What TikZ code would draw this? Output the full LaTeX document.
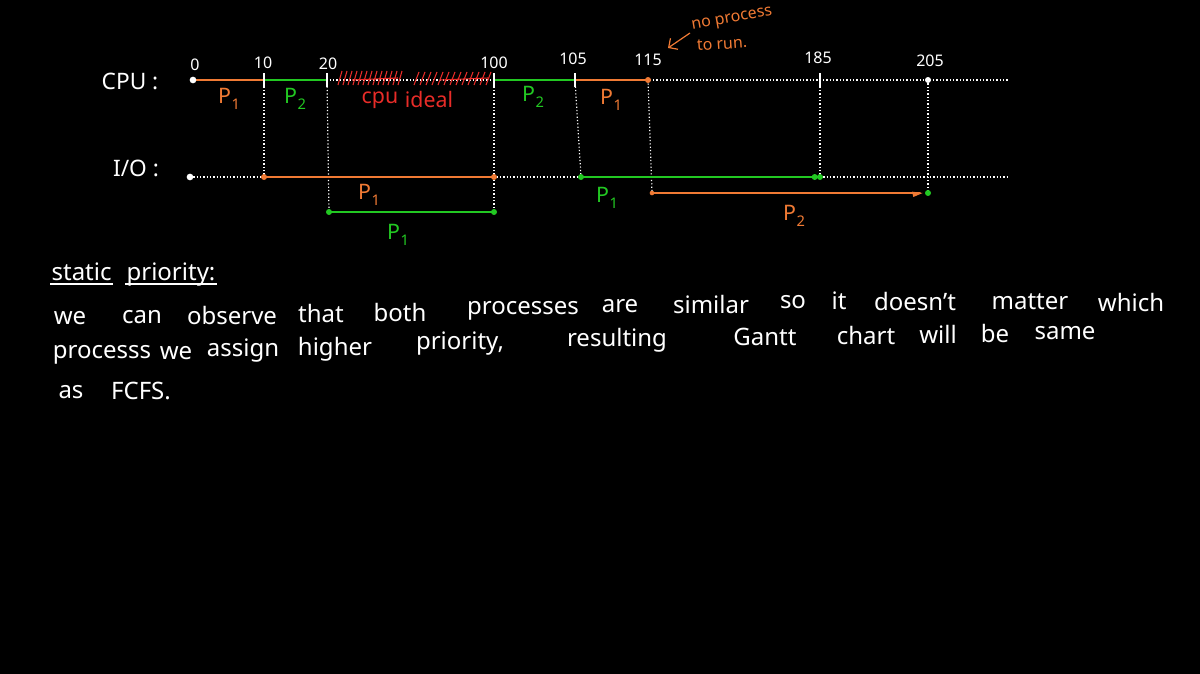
\documentclass[tikz,border=0pt]{standalone}
\usepackage{fontspec}
\setmainfont{Noto Sans}
\usetikzlibrary{arrows.meta}
\definecolor{ora}{RGB}{240,122,52}
\definecolor{grn}{RGB}{34,200,34}
\definecolor{rd}{RGB}{232,44,40}
\newcommand{\plab}[1]{P\kern0.5pt\raisebox{-0.55ex}{\fontsize{11}{11}\selectfont #1}}
\begin{document}
\begin{tikzpicture}[x=0.75pt,y=-0.75pt,
  dotl/.style={white, line width=0.9pt, dash pattern=on 0.9pt off 1.6pt},
  seg/.style={line width=1.6pt, line cap=round},
  dotm/.style={circle, fill=#1, inner sep=0pt, minimum size=4.5pt},
  tickm/.style={white, line width=1.4pt},
  tlab/.style={white, font=\fontsize{12}{12}\selectfont},
  plabel/.style={font=\fontsize{16}{16}\selectfont},
  axlab/.style={white, font=\fontsize{17}{17}\selectfont},
  wd/.style={white, font=\fontsize{18}{18}\selectfont, inner sep=1pt}]
\fill[black] (0,0) rectangle (1200,674);
\useasboundingbox (0,0) rectangle (1200,674);

% coordinates
\coordinate (c0) at (193,80);
\coordinate (c10) at (264,80);
\coordinate (c20) at (327,80);
\coordinate (c100) at (494,80);
\coordinate (c105) at (575,80);
\coordinate (c115) at (648,80);
\coordinate (c185) at (820,80);
\coordinate (c205) at (928,80);
\coordinate (cend) at (1008,80);
\coordinate (i0) at (190,177);
\coordinate (i10) at (264,177);
\coordinate (i100) at (494,177);
\coordinate (i105) at (581,177);
\coordinate (i185) at (820,177);
\coordinate (iend) at (1008,177);
\coordinate (g20) at (329,212);
\coordinate (g100) at (494,212);
\coordinate (o115) at (652,193);
\coordinate (o205) at (928,193);
\coordinate (arrS) at (690,33);
\coordinate (arrE) at (668,48);

% axis labels
\node[axlab] (cpu) at (130,81) {CPU :};
\node[axlab] (io) at (136,168) {I/O :};

% dotted lines
\draw[dotl] (c0) -- (cend);
\draw[dotl] (i0) -- (iend);
\draw[dotl] (c10) -- (i10);
\draw[dotl] (c20) -- (g20);
\draw[dotl] (c100) -- (g100);
\draw[dotl] (c105) -- (i105);
\draw[dotl] (c115) -- (o115);
\draw[dotl] (c185) -- (i185);
\draw[dotl] (c205) -- (o205);

% tick labels
\node[tlab] (t0) at (195,65) {0};
\node[tlab] (t10) at (263,63) {10};
\node[tlab] (t20) at (328,64) {20};
\node[tlab] (t100) at (494,63) {100};
\node[tlab] (t105) at (573,59) {105};
\node[tlab] (t115) at (648,60) {115};
\node[tlab] (t185) at (818,58) {185};
\node[tlab] (t205) at (930,61) {205};

% CPU segments
\draw[seg, ora] (c0) -- (c10);
\draw[seg, grn] (c10) -- (c20);
\draw[seg, grn] (c100) -- (c105);
\draw[seg, ora] (c105) -- (c115);
\node[dotm=white, minimum size=5pt] at (c0) {};
\node[dotm=ora] at (c115) {};
\node[dotm=white] at (c205) {};
\foreach \p in {c10,c20,c100,c105,c185}
  \draw[tickm] ([yshift=5pt]\p) -- ([yshift=-5pt]\p);

% red scribbles (cpu idle)
\foreach \x in {338,343,...,398}
  \draw[rd, line width=0.8pt] (\x,85) -- (\x+4,71);
\foreach \x in {414,420,...,488}
  \draw[rd, line width=0.8pt] (\x,85) -- (\x+5,72);
\draw[rd, line width=0.8pt] (352,80) -- (398,78);
\draw[rd, line width=0.8pt] (440,80) -- (488,78);

% CPU labels
\node[plabel, ora] (p1a) at (229,99) {\plab{1}};
\node[plabel, grn] (p2a) at (295,99) {\plab{2}};
\node[plabel, rd] (cpuw) at (380,100) {cpu};
\node[plabel, rd] (idle) at (429,100) {ideal};
\node[plabel, grn] (p2b) at (533,97) {\plab{2}};
\node[plabel, ora] (p1b) at (611,100) {\plab{1}};

% note
\node[ora, font=\fontsize{12}{12}\selectfont, rotate=10] (np) at (732,20) {no process};
\node[ora, font=\fontsize{12}{12}\selectfont, rotate=4] (tr) at (722,44) {to run.};
\draw[ora, line width=0.9pt, -{Straight Barb[length=5pt]}] (arrS) -- (arrE);

% I/O segments
\draw[seg, ora, line width=2.2pt] (i10) -- (i100);
\node[dotm=ora] at (i10) {};
\node[dotm=ora] at (i100) {};
\node[dotm=white, minimum size=5pt] at (i0) {};
\draw[seg, grn, line width=1.2pt] (g20) -- (g100);
\node[dotm=grn] at (g20) {};
\node[dotm=grn] at (g100) {};
\draw[seg, grn] (i105) -- (i185);
\node[dotm=grn] at (i105) {};
\node[dotm=grn] at ([xshift=-4pt]i185) {};
\node[dotm=grn] at (i185) {};
\draw[seg, ora, line width=1.2pt] (o115) -- ([xshift=-6pt]o205);
\fill[ora] ([xshift=-11pt,yshift=-3pt]o205) -- ([xshift=-4pt]o205) -- ([xshift=-12pt,yshift=1pt]o205) -- cycle;
\node[dotm=ora, minimum size=3.5pt] at (o115) {};
\node[dotm=grn] at (o205) {};

\node[plabel, ora] (p1c) at (369,195) {\plab{1}};
\node[plabel, grn] (p1d) at (398,235) {\plab{1}};
\node[plabel, grn] (p1e) at (607,198) {\plab{1}};
\node[plabel, ora] (p2c) at (794,216) {\plab{2}};

% heading
\node[wd, anchor=base west] (hs) at (50,280) {static};
\node[wd, anchor=base west] (hp) at (125,280) {priority:};
\draw[white, line width=0.8pt] ([yshift=-3pt]hs.base west) -- ([yshift=-3pt]hs.base east);
\draw[white, line width=0.8pt] ([yshift=-3pt]hp.base west) -- ([yshift=-3pt]hp.base east);

% line 1
\node[wd] (w1) at (70,318) {we};
\node[wd] (w2) at (142,317) {can};
\node[wd] (w3) at (232,315) {observe};
\node[wd] (w4) at (321,313) {that};
\node[wd] (w5) at (400,312) {both};
\node[wd] (w6) at (523,311) {processes};
\node[wd] (w7) at (620,306) {are};
\node[wd] (w8) at (711,304) {similar};
\node[wd] (w9) at (793,302) {so};
\node[wd] (w10) at (839,301) {it};
\node[wd] (w11) at (915,301) {doesn't};
\node[wd] (w12) at (1030,302) {matter};
\node[wd] (w13) at (1131,302) {which};

% line 2
\node[wd] (v1) at (102,355) {processs};
\node[wd] (v2) at (176,353) {we};
\node[wd] (v3) at (243,351) {assign};
\node[wd] (v4) at (335,349) {higher};
\node[wd] (v5) at (460,344) {priority,};
\node[wd] (v6) at (617,340) {resulting};
\node[wd] (v7) at (765,337) {Gantt};
\node[wd] (v8) at (866,335) {chart};
\node[wd] (v9) at (938,334) {will};
\node[wd] (v10) at (995,333) {be};
\node[wd] (v11) at (1065,333) {same};

% line 3
\node[wd] (u1) at (71,392) {as};
\node[wd] (u2) at (141,391) {FCFS.};
\end{tikzpicture}
\end{document}
